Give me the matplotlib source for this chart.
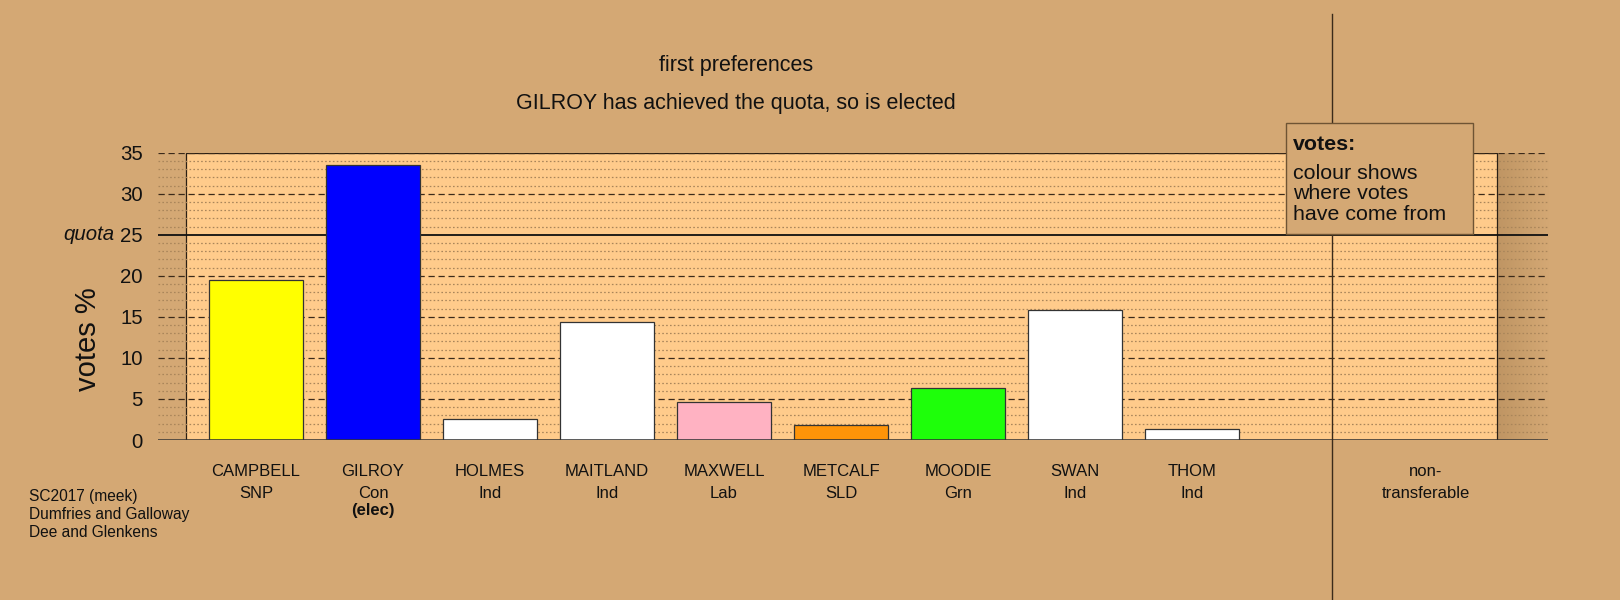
import matplotlib
matplotlib.use("Agg")
import matplotlib.pyplot as plt
import matplotlib.transforms as mtransforms
from matplotlib.patches import Rectangle
from matplotlib.lines import Line2D
from matplotlib.colors import LinearSegmentedColormap
import numpy as np

# data
names = ["CAMPBELL", "GILROY", "HOLMES", "MAITLAND", "MAXWELL",
         "METCALF", "MOODIE", "SWAN", "THOM"]
parties = ["SNP", "Con", "Ind", "Ind", "Lab", "SLD", "Grn", "Ind", "Ind"]
votes = [19.5, 33.5, 2.55, 14.35, 4.65, 1.85, 6.3, 15.85, 1.3]
elected = ["GILROY"]
nontransferable = 0.0
quota = 25
yticks = [0, 5, 10, 15, 20, 25, 30, 35]
note_lines = ["colour shows", "where votes", "have come from"]
footer_lines = ["SC2017 (meek)", "Dumfries and Galloway", "Dee and Glenkens"]

bar_colors = ["#ffff00", "#0000ff", "#ffffff", "#ffffff", "#ffb2c2",
              "#ff9408", "#1eff0a", "#ffffff", "#ffffff"]

BG = "#d4a874"
PLOT = "#ffcb8b"
DARK = "#2a1f14"
TXT = "#111111"

plt.rcParams["font.family"] = ["Liberation Sans", "DejaVu Sans"]

fig = plt.figure(figsize=(16.2, 6.0), dpi=100, facecolor=BG)
W, H = 1620.0, 600.0
ax = fig.add_axes([158 / W, (H - 440) / H, (1548 - 158) / W, (440 - 152.7) / H])
ax.set_facecolor(BG)
ax.set_xlim(-0.8376, 11.043)
ax.set_ylim(0, 35)
for s in ax.spines.values():
    s.set_visible(False)

# light inner panel
ax.add_patch(Rectangle((-0.598, 0), 11.205, 35, facecolor=PLOT,
                       edgecolor=DARK, linewidth=0.9, zorder=0.5))

# shading to the right of the panel
grad = np.linspace(0, 1, 64).reshape(1, -1)
cm = LinearSegmentedColormap.from_list("sh", ["#bf9563", BG])
ax.imshow(grad, extent=(10.607, 11.043, 0, 35), aspect="auto",
          cmap=cm, zorder=0.4)

# grid lines
for v in range(0, 36):
    if v % 5 == 0:
        continue
    ax.axhline(v, color="#a9855a", lw=0.9, linestyle=(0, (1.3, 1.8)), zorder=1)
for v in range(5, 36, 5):
    if v == quota:
        continue
    ax.axhline(v, color="#3b2a1a", lw=0.9, linestyle=(0, (5, 3)), zorder=1)
ax.axhline(quota, color="#111111", lw=1.3, zorder=1)
ax.axhline(0, color="#333333", lw=1.8, zorder=3)

# bars
x = np.arange(len(names))
ax.bar(x, votes, width=0.803, color=bar_colors, edgecolor="#333333",
       linewidth=0.9, zorder=2)
ax.bar([10], [nontransferable], width=0.803, color="#888888",
       edgecolor="#333333", linewidth=0.9, zorder=2)

# y ticks
ax.set_yticks(yticks)
ax.set_yticklabels([str(t) for t in yticks], fontsize=14.7, color=TXT)
ax.set_xticks([])
ax.tick_params(axis="y", length=0, pad=11)
ax.set_ylabel("votes %", fontsize=21, color=TXT)
ax.yaxis.set_label_coords(-0.0403, 0.351)

trans_fy = mtransforms.blended_transform_factory(fig.transFigure, ax.transData)
ax.text(114 / W, quota, "quota", transform=trans_fy, ha="right", va="center",
        fontsize=14.7, style="italic", color=TXT)

# category labels
trans_xf = mtransforms.blended_transform_factory(ax.transData, fig.transFigure)
for i, (n, p) in enumerate(zip(names, parties)):
    ax.text(i, 1 - 472 / H, n, transform=trans_xf, ha="center", va="center",
            fontsize=12, color=TXT)
    ax.text(i, 1 - 493 / H, p, transform=trans_xf, ha="center", va="center",
            fontsize=12, color=TXT)
    if n in elected:
        ax.text(i, 1 - 511 / H, "(elec)", transform=trans_xf, ha="center",
                va="center", fontsize=12, weight="bold", color=TXT)
ax.text(10, 1 - 472 / H, "non-", transform=trans_xf, ha="center", va="center",
        fontsize=12, color=TXT)
ax.text(10, 1 - 493 / H, "transferable", transform=trans_xf, ha="center",
        va="center", fontsize=12, color=TXT)

# separator line
fig.add_artist(Line2D([1332 / W, 1332 / W], [0, 1 - 14 / H], color="#3a2a1a",
                      lw=1.0, zorder=4))

# titles
fig.text(735.6 / W, 1 - 66 / H, "first preferences", ha="center", va="center",
         fontsize=15.5, color=TXT)
fig.text(735.6 / W, 1 - 103 / H, "GILROY has achieved the quota, so is elected",
         ha="center", va="center", fontsize=15.5, color=TXT)

# note box
fig.add_artist(Rectangle((1286 / W, 1 - 234 / H), (1473 - 1286) / W,
                         (234 - 122.7) / H, transform=fig.transFigure,
                         facecolor=BG, edgecolor="#6e5434", lw=1.0, zorder=5))
fig.text(1293 / W, 1 - 145 / H, "votes:", ha="left", va="center",
         fontsize=15.4, weight="bold", color=TXT, zorder=6)
for k, line in enumerate(note_lines):
    fig.text(1293 / W, 1 - (173.5 + 20.5 * k) / H, line, ha="left",
             va="center", fontsize=15.4, color=TXT, zorder=6)

# footer
for k, line in enumerate(footer_lines):
    fig.text(29 / W, 1 - (496 + 18.3 * k) / H, line, ha="left", va="center",
             fontsize=11.2, color=TXT)

fig.savefig("out.png", dpi=100, facecolor=BG)
